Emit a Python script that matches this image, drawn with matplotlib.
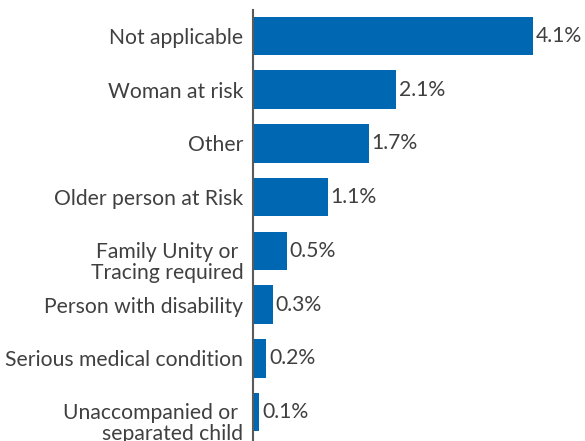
import matplotlib.pyplot as plt
import matplotlib.transforms as mtransforms

# Data
categories = ["Not applicable", "Woman at risk", "Other", "Older person at Risk",
              "Family Unity or \nTracing required", "Person with disability",
              "Serious medical condition", "Unaccompanied or \nseparated child"]
values = [4.1, 2.1, 1.7, 1.1, 0.5, 0.3, 0.2, 0.1]

blue = '#0068b3'
text_color = '#404040'

plt.rcParams['font.family'] = ['Lato', 'DejaVu Sans']

fig = plt.figure(figsize=(5.85, 4.41), dpi=100)
ax = fig.add_axes([252.5 / 585, 0, (585 - 252.5) / 585, 431 / 441])

pos = list(range(len(categories)))
ax.barh(pos, values, height=0.717, color=blue)

ax.set_xlim(0, 4.861)
ax.set_ylim(7.54, -0.484)

ax.set_yticks(pos)
ax.set_yticklabels(categories, fontsize=15.2, color=text_color, linespacing=1.05)
ax.tick_params(axis='y', length=0, pad=6.5)
ax.set_xticks([])

# multi-line labels sit a little lower than the bar centre
for lbl in ax.get_yticklabels():
    if '\n' in lbl.get_text():
        lbl.set_transform(lbl.get_transform() +
                          mtransforms.ScaledTranslation(0, -9 / 100, fig.dpi_scale_trans))

for p, v in zip(pos, values):
    ax.text(v + 0.04, p, f"{v}%", va='center', ha='left', fontsize=15.2, color=text_color)

for s in ['top', 'right', 'bottom']:
    ax.spines[s].set_visible(False)
ax.spines['left'].set_color('#5a5a5a')
ax.spines['left'].set_linewidth(1.5)

fig.savefig('out.png', dpi=100)
